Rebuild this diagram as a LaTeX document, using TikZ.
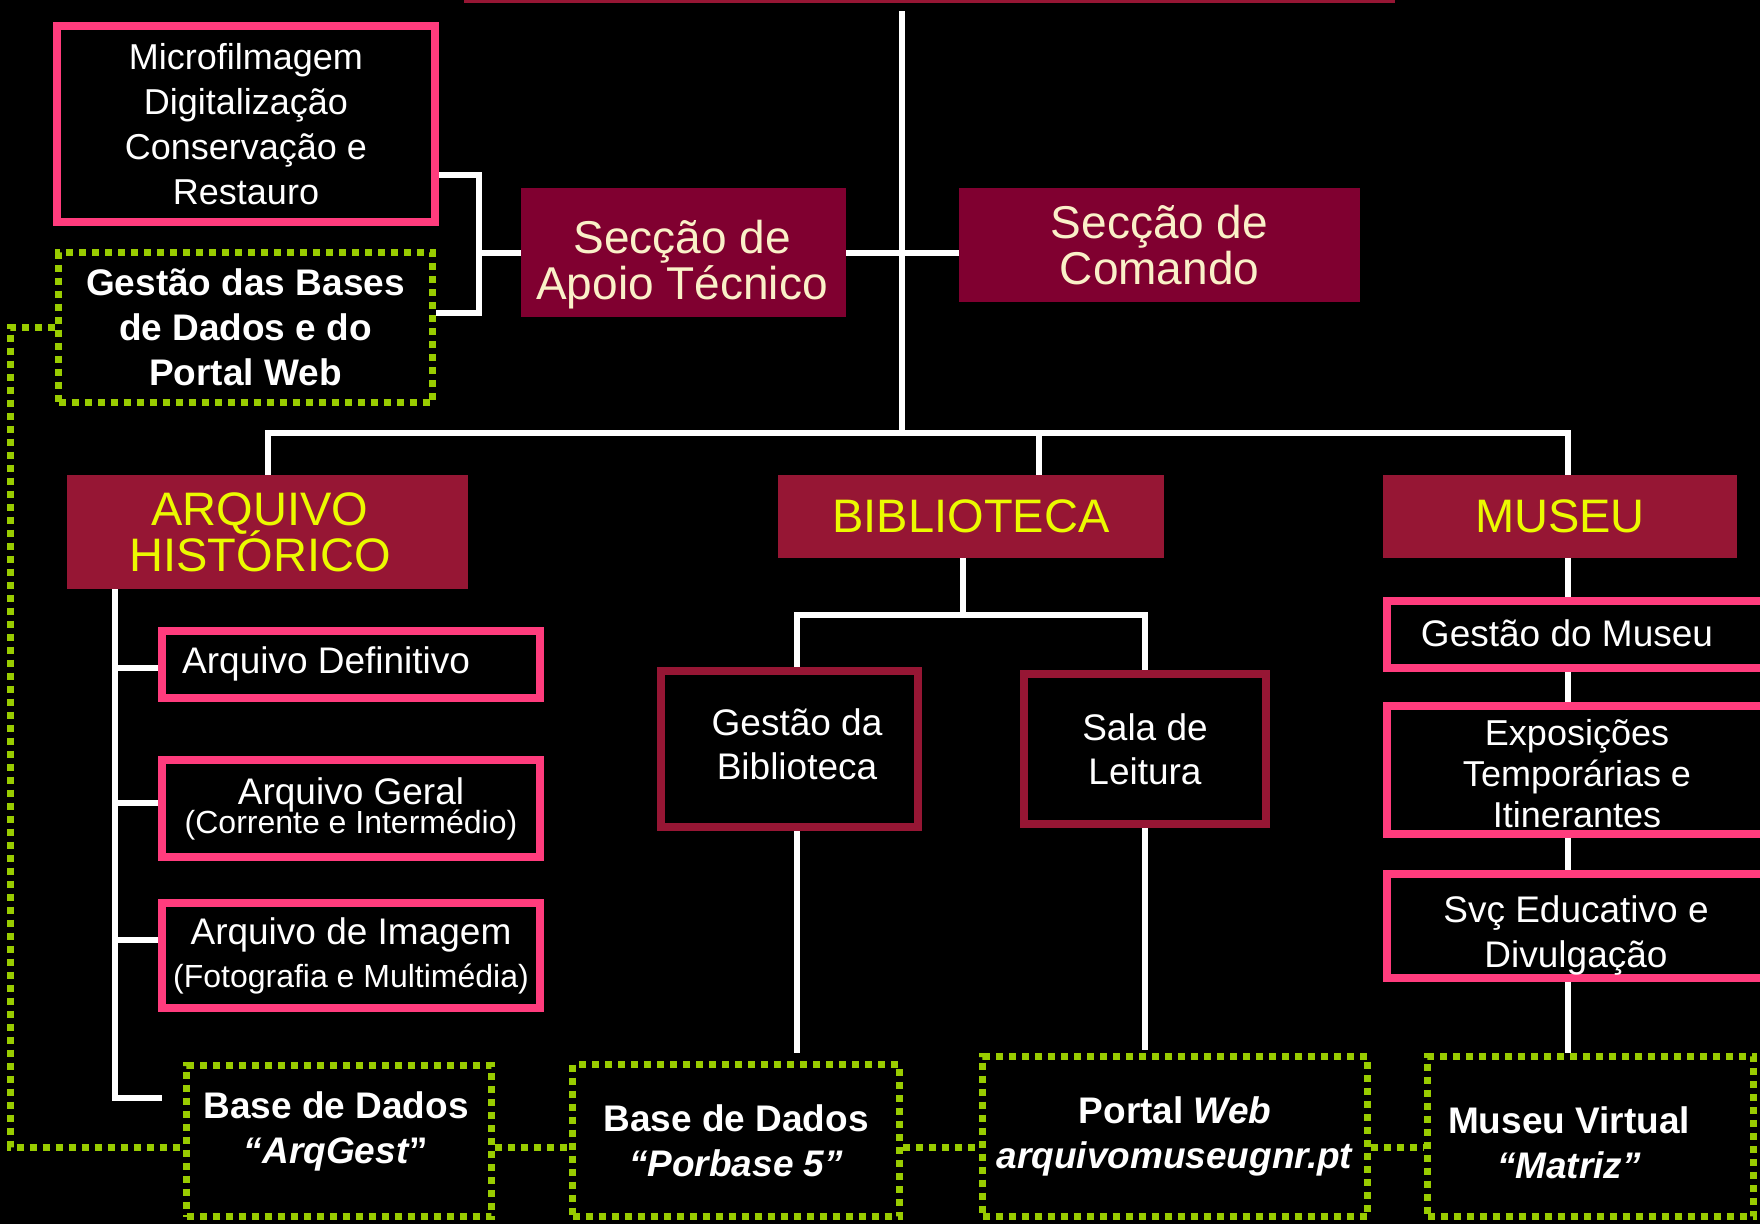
\documentclass[tikz,border=0pt]{standalone}
\usepackage{fontspec}
\setmainfont{Liberation Sans}
\lineskiplimit=-1000pt
\lineskip=0pt
\pgfdeclarelayer{back}
\pgfdeclarelayer{lines}
\pgfsetlayers{back,lines,main}
\definecolor{pinkb}{RGB}{255,60,125}
\definecolor{greend}{RGB}{153,204,0}
\definecolor{maroonD}{RGB}{128,0,48}
\definecolor{maroonL}{RGB}{150,22,52}
\definecolor{yel}{RGB}{235,250,0}
\definecolor{cream}{RGB}{250,240,200}
\tikzset{
  linew/.style={draw=white, line width=6pt},
  lineg/.style={draw=greend, line width=7pt, dash pattern=on 7pt off 6pt},
  pinkbox/.style={draw=pinkb, line width=8pt, fill=black, inner sep=0pt, text=white, align=center},
  dotbox/.style={draw=greend, line width=7pt, dash pattern=on 7pt off 6pt, fill=black, inner sep=0pt, text=white, font=\bfseries\fontsize{37}{45}\selectfont, align=center},
  mainbox/.style={fill=maroonL, inner sep=0pt, text=yel, font=\fontsize{47}{46}\selectfont, align=center},
  secbox/.style={fill=maroonD, inner sep=0pt, text=cream, font=\fontsize{46}{46}\selectfont, align=center},
  bibbox/.style={draw=maroonL, line width=8pt, fill=black, inner sep=0pt, text=white, font=\fontsize{37}{44}\selectfont, align=center},
  txt/.style={text=white, inner sep=0pt, align=center},
}
\begin{document}
\begin{tikzpicture}[x=1pt,y=-1pt]
\useasboundingbox (0,0) rectangle (1760,1224);
\begin{pgfonlayer}{back}
\fill[black] (0,0) rectangle (1760,1224);
\end{pgfonlayer}

% top (cut-off) box
\node[draw=maroonL, line width=3pt, minimum width=928pt, minimum height=100pt, inner sep=0pt] (topbox) at (929,-49) {};

% upper left
\node[pinkbox, minimum width=378pt, minimum height=196pt, font=\fontsize{36}{45}\selectfont] (mf) at (246,124) {Microfilmagem\\Digitalização\\Conservação e\\Restauro};
\node[dotbox, minimum width=374pt, minimum height=150pt] (gdb) at (245.5,327.5) {Gestão das Bases\\de Dados e do\\Portal Web};

% sections
\node[secbox, minimum width=325pt, minimum height=129pt] (apoio) at (683.5,252.5) {};
\node[secbox, fill=none] (apoio-t) at (682,265) {Secção de\\Apoio Técnico};
\node[secbox, minimum width=401pt, minimum height=114pt] (comando) at (1159.5,245) {Secção de\\Comando};

% main units
\node[mainbox, minimum width=401pt, minimum height=114pt] (arq) at (267.5,532) {};
\node[mainbox, fill=none] (arq-t) at (260,532) {ARQUIVO\\HISTÓRICO};
\node[mainbox, minimum width=386pt, minimum height=83pt] (bib) at (971,516.5) {BIBLIOTECA};
\node[mainbox, minimum width=354pt, minimum height=83pt] (mus) at (1560,516.5) {MUSEU};

% arquivo sub-boxes
\node[pinkbox, minimum width=378pt, minimum height=67pt] (adef) at (351,664.5) {};
\node[txt, anchor=west, font=\fontsize{37}{45}\selectfont] (adef-t) at (182,664) {Arquivo Definitivo};
\node[pinkbox, minimum width=378pt, minimum height=97pt, font=\fontsize{37}{29}\selectfont] (ager) at (351,808.5) {Arquivo Geral\\{\fontsize{32}{29}\selectfont (Corrente e Intermédio)}};
\node[pinkbox, minimum width=378pt, minimum height=105pt, font=\fontsize{37}{43}\selectfont] (aimg) at (351,955.5) {Arquivo de Imagem\\{\fontsize{32}{43}\selectfont (Fotografia e Multimédia)}};

% biblioteca sub-boxes
\node[bibbox, minimum width=257pt, minimum height=156pt] (gbib) at (789.5,749) {};
\node[txt, font=\fontsize{37}{44}\selectfont] (gbib-t) at (797,744) {Gestão da\\Biblioteca};
\node[bibbox, minimum width=242pt, minimum height=150pt] (sala) at (1145,749) {Sala de\\Leitura};

% museu sub-boxes
\node[pinkbox, minimum width=385pt, minimum height=67pt] (gmus) at (1579.5,634.5) {};
\node[txt, font=\fontsize{37}{45}\selectfont] (gmus-t) at (1567,633) {Gestão do Museu};
\node[pinkbox, minimum width=385pt, minimum height=128pt] (expo) at (1579.5,770) {};
\node[txt, font=\fontsize{36}{41}\selectfont] (expo-t) at (1577,774) {Exposições\\Temporárias e\\Itinerantes};
\node[pinkbox, minimum width=385pt, minimum height=104pt] (svc) at (1579.5,926) {};
\node[txt, font=\fontsize{37}{45}\selectfont] (svc-t) at (1576,935) {Svç Educativo e\\Divulgação};

% databases
\node[dotbox, minimum width=305pt, minimum height=151pt] (arqgest) at (339,1141) {};
\node[txt, font=\bfseries\fontsize{37}{45}\selectfont] (arqgest-t) at (336,1131) {Base de Dados\\\textit{“ArqGest}”};
\node[dotbox, minimum width=327pt, minimum height=152pt] (porbase) at (736,1140.5) {Base de Dados\\\textit{“Porbase 5”}};
\node[dotbox, minimum width=385pt, minimum height=160pt] (portal) at (1175,1136.5) {Portal \textit{Web}\\\textit{arquivomuseugnr.pt}};
\node[dotbox, minimum width=326pt, minimum height=160pt] (matriz) at (1590.5,1136.5) {};
\node[txt, font=\bfseries\fontsize{37}{45}\selectfont] (matriz-t) at (1569,1143) {Museu Virtual\\\textit{“Matriz”}};

% connectors
\coordinate (trtop) at (902,11);
\coordinate (hub) at (902,433);
\coordinate (bibtop) at ([xshift=68pt]bib.north);
\coordinate (mustop) at ([xshift=8pt]mus.north);
\coordinate (brktop) at (479,175);
\coordinate (brkbot) at (479,313);
\coordinate (brk) at (479,252.5);
\coordinate (acol) at (115,589);
\coordinate (aend) at (162,1098);
\coordinate (defb) at ([yshift=-3.5pt]adef.west);
\coordinate (gerb) at ([yshift=5.5pt]ager.west);
\coordinate (imgb) at ([yshift=15.5pt]aimg.west);
\coordinate (bibbot) at ([xshift=-8pt]bib.south);
\coordinate (bh) at (963,615);
\coordinate (gbibtop) at ([xshift=7.5pt]gbib.north);
\coordinate (gbibbot) at ([xshift=7.5pt]gbib.south);
\coordinate (porbend) at (797,1053);
\coordinate (salaend) at (1145,1050);
\coordinate (mx) at (1568,0);
\coordinate (gl) at (10,0);
\coordinate (gy) at (0,1147);

\begin{pgfonlayer}{lines}
\draw[linew] (trtop) -- (hub);
\draw[linew] (arq.north) |- (hub) -| (mustop);
\draw[linew] (bibtop) -- (bibtop |- hub);
\draw[linew] (mf.east |- brktop) -- (brktop) -- (brkbot) -- (gdb.east |- brkbot);
\draw[linew] (brk) -- (apoio.west);
\draw[linew] (apoio.east) -- (apoio.east -| comando.west);
\draw[linew] (acol) |- (aend);
\draw[linew] (defb) -- (defb -| acol);
\draw[linew] (gerb) -- (gerb -| acol);
\draw[linew] (imgb) -- (imgb -| acol);
\draw[linew] (bibbot) -- (bh);
\draw[linew] (gbibtop) |- (bh) -| (sala.north);
\draw[linew] (gbibbot) -- (porbend);
\draw[linew] (sala.south) -- (salaend);
\draw[linew] (mus.south -| mx) -- (matriz.north -| mx);
\draw[lineg] (gdb.west) -- (gdb.west -| gl) |- (arqgest.west |- gy);
\draw[lineg] (arqgest.east |- gy) -- (porbase.west |- gy);
\draw[lineg] (porbase.east |- gy) -- (portal.west |- gy);
\draw[lineg] (portal.east |- gy) -- (matriz.west |- gy);
\end{pgfonlayer}
\end{tikzpicture}
\end{document}
